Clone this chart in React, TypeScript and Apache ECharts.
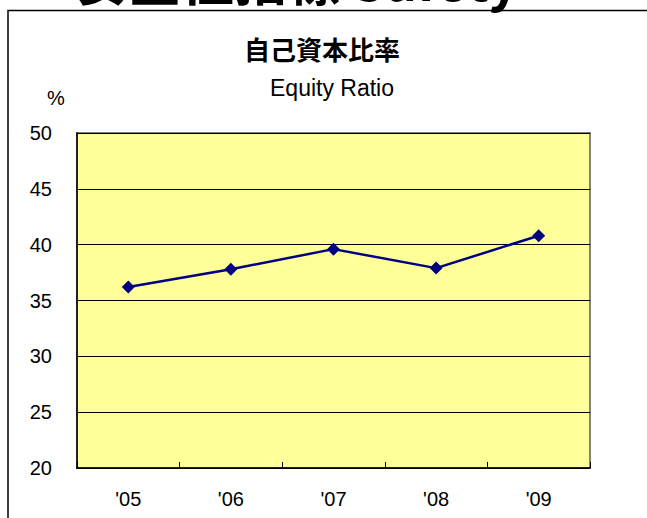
import React, { useEffect, useRef } from "react";
import * as echarts from "echarts";

const categories = ["'05", "'06", "'07", "'08", "'09"];
const equityRatio = [36.2, 37.8, 39.6, 37.9, 40.8];
const yMin = 20;
const yMax = 50;
const yStep = 5;
const titleText = "自己資本比率";
const subtitleText = "Equity Ratio";
const unitText = "%";
const headingText = "安全性指標 Safety";

export default function App() {
  const ref = useRef<HTMLDivElement>(null);
  useEffect(() => {
    if (!ref.current) return;
    const chart = echarts.init(ref.current, undefined, { renderer: "svg" });
    const font = "'Liberation Sans', Arial, sans-serif";
    chart.setOption({
      animation: false,
      backgroundColor: "#ffffff",
      grid: {
        left: 77,
        top: 133,
        width: 513,
        height: 335,
        show: true,
        backgroundColor: "#FFFF99",
        borderColor: "#808080",
        borderWidth: 2,
      },
      graphic: [
        {
          type: "text",
          x: 297,
          y: 4,
          style: {
            text: headingText,
            font: "bold 53px 'Noto Sans CJK JP', sans-serif",
            fill: "#000",
            align: "center",
            verticalAlign: "bottom",
          },
        },
        {
          type: "rect",
          shape: { x: 8, y: 10.5, width: 700, height: 600 },
          style: { fill: "none", stroke: "#000", lineWidth: 1.5 },
        },
        {
          type: "text",
          x: 322,
          y: 48,
          style: {
            text: titleText,
            font: "bold 26px 'Noto Sans CJK JP', sans-serif",
            fill: "#000",
            align: "center",
            verticalAlign: "middle",
          },
        },
        {
          type: "text",
          x: 332,
          y: 88,
          style: {
            text: subtitleText,
            font: "23px " + font,
            fill: "#000",
            align: "center",
            verticalAlign: "middle",
          },
        },
        {
          type: "text",
          x: 56,
          y: 98,
          style: {
            text: unitText,
            font: "20px " + font,
            fill: "#000",
            align: "center",
            verticalAlign: "middle",
          },
        },
      ],
      xAxis: {
        type: "category",
        data: categories,
        boundaryGap: true,
        axisLine: { show: true, lineStyle: { color: "#000", width: 1.5 } },
        axisTick: { show: true, inside: true, length: 6, lineStyle: { color: "#000" } },
        axisLabel: { color: "#000", fontSize: 20, fontFamily: font, margin: 21 },
        splitLine: { show: false },
      },
      yAxis: {
        type: "value",
        min: yMin,
        max: yMax,
        interval: yStep,
        axisLine: { show: true, lineStyle: { color: "#000", width: 1.5 } },
        axisTick: { show: true, inside: true, length: 6, lineStyle: { color: "#000" } },
        axisLabel: { color: "#000", fontSize: 20, fontFamily: font, margin: 25 },
        splitLine: { show: true, lineStyle: { color: "#000", width: 1 } },
      },
      series: [
        {
          type: "line",
          data: equityRatio,
          symbol: "diamond",
          symbolSize: 13,
          itemStyle: { color: "#000080" },
          lineStyle: { color: "#000080", width: 2.5 },
        },
      ],
    });
    return () => chart.dispose();
  }, []);
  return (
    <div
      ref={ref}
      style={{ position: "absolute", left: 0, top: 0, width: 647, height: 518 }}
    />
  );
}
